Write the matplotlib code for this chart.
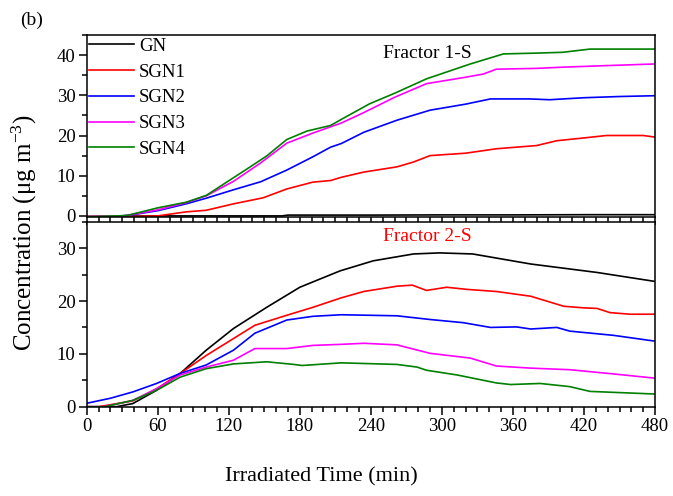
import matplotlib
matplotlib.use("Agg")
import matplotlib.pyplot as plt
from matplotlib.ticker import MultipleLocator

plt.rcParams['font.family'] = ['Liberation Serif', 'DejaVu Serif']
plt.rcParams['mathtext.fontset'] = 'custom'
plt.rcParams['mathtext.rm'] = 'Liberation Serif'
plt.rcParams['mathtext.it'] = 'Liberation Serif:italic'

labels = ["GN", "SGN1", "SGN2", "SGN3", "SGN4"]
colors = ["#000000", "#ff0000", "#0000ff", "#ff00ff", "#008000"]

# Fractor 1-S (top panel)
t1_gn = [0, 60, 120, 165, 170, 240, 300, 360, 420, 480]
v1_gn = [-0.1, 0, 0, 0, 0.2, 0.2, 0.25, 0.25, 0.3, 0.3]
t1_sgn1 = [0, 30, 60, 84, 101, 124, 149, 169, 191, 206, 215, 234, 262, 276, 290, 320, 346, 380, 397, 420, 439, 470, 480]
v1_sgn1 = [-0.2, -0.2, 0, 1.0, 1.4, 3.0, 4.5, 6.7, 8.4, 8.8, 9.6, 10.9, 12.2, 13.4, 15.0, 15.6, 16.7, 17.5, 18.7, 19.4, 20.0, 20.0, 19.6]
t1_sgn2 = [0, 17, 39, 60, 84, 101, 124, 147, 169, 191, 206, 215, 234, 262, 290, 320, 341, 374, 391, 420, 450, 480]
v1_sgn2 = [-0.6, -0.4, 0.3, 1.3, 3.0, 4.4, 6.5, 8.5, 11.4, 14.7, 17.1, 18.0, 20.8, 23.8, 26.3, 27.8, 29.1, 29.1, 28.9, 29.4, 29.7, 29.9]
t1_sgn3 = [0, 30, 60, 84, 101, 124, 147, 169, 191, 215, 234, 260, 287, 320, 335, 346, 380, 402, 440, 480]
v1_sgn3 = [-0.2, -0.1, 1.5, 3.3, 5.0, 8.6, 13.2, 18.1, 20.6, 23.1, 25.7, 29.5, 32.9, 34.5, 35.3, 36.5, 36.7, 37.0, 37.4, 37.8]
t1_sgn4 = [0, 34, 60, 84, 101, 124, 135, 152, 169, 186, 206, 215, 239, 260, 287, 324, 352, 380, 402, 425, 480]
v1_sgn4 = [-0.3, 0.1, 2.0, 3.4, 5.1, 9.5, 11.6, 14.9, 19.0, 21.1, 22.5, 24.0, 27.9, 30.5, 34.1, 37.8, 40.3, 40.5, 40.7, 41.5, 41.5]

# Fractor 2-S (bottom panel)
t2_gn = [0, 25, 39, 59, 79, 101, 124, 152, 180, 214, 242, 276, 298, 326, 375, 431, 480]
v2_gn = [0, 0, 0.6, 3.1, 6.3, 10.7, 14.8, 18.8, 22.6, 25.7, 27.6, 28.9, 29.1, 28.9, 27.0, 25.4, 23.7]
t2_sgn1 = [0, 10, 39, 59, 79, 101, 124, 142, 169, 191, 215, 234, 262, 275, 287, 304, 321, 346, 375, 403, 420, 431, 442, 459, 480]
v2_sgn1 = [0, 0, 1.1, 3.4, 6.3, 9.7, 12.9, 15.4, 17.3, 18.8, 20.6, 21.8, 22.8, 23.0, 22.0, 22.6, 22.2, 21.8, 20.9, 19.0, 18.7, 18.6, 17.8, 17.5, 17.5]
t2_sgn2 = [0, 20, 39, 59, 79, 101, 124, 142, 169, 191, 215, 262, 290, 304, 318, 341, 363, 375, 397, 408, 445, 480]
v2_sgn2 = [0.65, 1.6, 2.8, 4.4, 6.3, 7.9, 10.7, 13.9, 16.4, 17.1, 17.4, 17.2, 16.5, 16.2, 15.9, 15.0, 15.1, 14.7, 15.0, 14.3, 13.5, 12.4]
t2_sgn3 = [0, 15, 39, 59, 79, 101, 124, 142, 169, 191, 215, 234, 262, 290, 324, 346, 375, 408, 445, 480]
v2_sgn3 = [0, 0, 1.2, 3.4, 6.0, 7.5, 8.8, 11.0, 11.0, 11.6, 11.8, 12.0, 11.7, 10.1, 9.2, 7.7, 7.3, 7.0, 6.2, 5.4]
t2_sgn4 = [0, 15, 39, 59, 79, 101, 124, 152, 175, 182, 215, 262, 279, 287, 313, 346, 358, 383, 408, 425, 480]
v2_sgn4 = [0, 0, 1.2, 3.1, 5.6, 7.2, 8.1, 8.5, 8.0, 7.8, 8.3, 8.0, 7.5, 6.9, 6.0, 4.5, 4.2, 4.4, 3.8, 2.9, 2.4]

top_series = [(t1_gn, v1_gn), (t1_sgn1, v1_sgn1), (t1_sgn2, v1_sgn2), (t1_sgn3, v1_sgn3), (t1_sgn4, v1_sgn4)]
bot_series = [(t2_gn, v2_gn), (t2_sgn1, v2_sgn1), (t2_sgn2, v2_sgn2), (t2_sgn3, v2_sgn3), (t2_sgn4, v2_sgn4)]

fig = plt.figure(figsize=(6.73, 4.96), dpi=100)
ax1 = fig.add_axes([0.1288, 0.5631, 0.8445, 0.3663])
ax2 = fig.add_axes([0.1288, 0.180, 0.8445, 0.373])

for i, (t, v) in enumerate(top_series):
    ax1.plot(t, v, color=colors[i], lw=1.2, label=labels[i])
for i, (t, v) in enumerate(bot_series):
    ax2.plot(t, v, color=colors[i], lw=1.2)

ax1.set_ylim(-0.2, 45)
ax2.set_ylim(0, 35)
for ax in (ax1, ax2):
    ax.set_xlim(0, 480)
    ax.xaxis.set_major_locator(MultipleLocator(60))
    ax.xaxis.set_minor_locator(MultipleLocator(10))
    ax.yaxis.set_major_locator(MultipleLocator(10))
    ax.yaxis.set_minor_locator(MultipleLocator(5))
    ax.tick_params(which='both', direction='out', top=False, right=False,
                   labelsize=13.5, width=1.1, pad=2)
    ax.tick_params(which='major', length=6)
    ax.tick_params(which='minor', length=3.5)
    for s in ax.spines.values():
        s.set_linewidth(1.1)

ax1.tick_params(labelbottom=False)

ax1.legend(loc='upper left', bbox_to_anchor=(0, 1.0), frameon=False, fontsize=13.5,
           borderaxespad=0, borderpad=0.15, handlelength=2.35, handletextpad=0.3,
           labelspacing=0.46)

ax1.text(0.6, 0.9, "Fractor 1-S", transform=ax1.transAxes, fontsize=14, ha='center', va='center')
ax2.text(0.6, 0.92, "Fractor 2-S", transform=ax2.transAxes, fontsize=14, ha='center', va='center',
         color='#ff0000')

fig.text(0.478, 0.039, "Irradiated Time (min)", fontsize=16, ha='center', va='center')
fig.text(0.037, 0.531, "Concentration (\u03bcg m$^{\\mathrm{-3}}$)", fontsize=18,
         rotation=90, ha='center', va='center')
fig.text(0.047, 0.958, "(b)", fontsize=14, ha='center', va='center')

fig.savefig("out.png", dpi=100)
